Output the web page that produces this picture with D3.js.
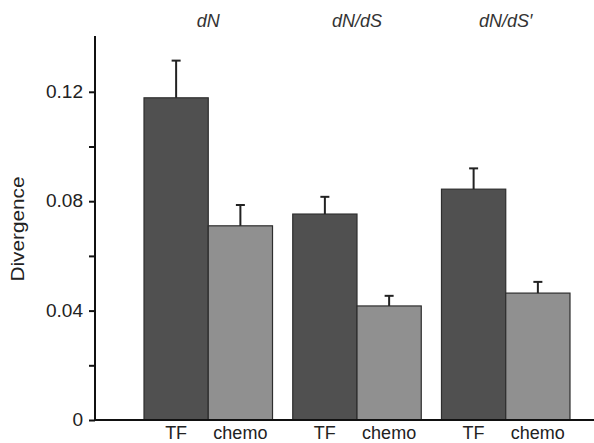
<!DOCTYPE html>
<html>
<head>
<meta charset="utf-8">
<script src="https://cdn.jsdelivr.net/npm/d3@7"></script>
<style>
  html, body { margin: 0; padding: 0; background: #fff; }
  svg { display: block; font-family: "Liberation Sans", Arial, sans-serif; }
</style>
</head>
<body>
<svg id="chart" width="594" height="443"></svg>
<script>
// ---- data ----
const groups = ["dN", "dN/dS", "dN/dS\u2032"];
const categories = ["TF", "chemo"];
const tfValues = [0.1178, 0.0753, 0.0844];
const tfErrors = [0.0136, 0.0063, 0.0076];
const chemoValues = [0.0710, 0.0417, 0.0464];
const chemoErrors = [0.0076, 0.0037, 0.0041];
const majorTicks = [0, 0.04, 0.08, 0.12];
const minorTicks = [0.02, 0.06, 0.10];
const tickLabels = ["0", "0.04", "0.08", "0.12"];
const yLabel = "Divergence";

const colors = { TF: "#505050", chemo: "#909090" };

const rows = [];
groups.forEach((g, i) => {
  rows.push({ group: g, cat: "TF", value: tfValues[i], err: tfErrors[i] });
  rows.push({ group: g, cat: "chemo", value: chemoValues[i], err: chemoErrors[i] });
});

const svg = d3.select("#chart");
const axisX = 95, baseY = 420, topY = 36;

const y = d3.scaleLinear().domain([0, 0.1404]).range([baseY, topY]);
const x0 = d3.scaleBand().domain(groups).range([144, 570]).paddingInner(0.136).paddingOuter(0);
const x1 = d3.scaleBand().domain(categories).range([0, x0.bandwidth()]).padding(0);

// bars
const g = svg.append("g");
g.selectAll("rect.bar").data(rows).join("rect")
  .attr("class", "bar")
  .attr("x", d => x0(d.group) + x1(d.cat))
  .attr("y", d => y(d.value))
  .attr("width", x1.bandwidth())
  .attr("height", d => y(0) - y(d.value))
  .attr("fill", d => colors[d.cat])
  .attr("stroke", "#2e2e2e")
  .attr("stroke-width", 1.2);

// error bars
const eb = g.selectAll("g.err").data(rows).join("g").attr("class", "err");
eb.append("line")
  .attr("x1", d => x0(d.group) + x1(d.cat) + x1.bandwidth() / 2)
  .attr("x2", d => x0(d.group) + x1(d.cat) + x1.bandwidth() / 2)
  .attr("y1", d => y(d.value))
  .attr("y2", d => y(d.value + d.err))
  .attr("stroke", "#222").attr("stroke-width", 2);
eb.append("line")
  .attr("x1", d => x0(d.group) + x1(d.cat) + x1.bandwidth() / 2 - 4.5)
  .attr("x2", d => x0(d.group) + x1(d.cat) + x1.bandwidth() / 2 + 4.5)
  .attr("y1", d => y(d.value + d.err))
  .attr("y2", d => y(d.value + d.err))
  .attr("stroke", "#222").attr("stroke-width", 2);

// y axis
const yAxis = d3.axisLeft(y).tickValues(majorTicks)
  .tickFormat((d, i) => tickLabels[i]).tickSizeOuter(0).tickSize(6).tickPadding(6);
const ya = svg.append("g").attr("transform", `translate(${axisX},0)`).call(yAxis);
ya.select(".domain").remove();
ya.selectAll(".tick line").attr("stroke", "#111").attr("stroke-width", 2);
ya.selectAll(".tick text").attr("font-size", 18).attr("fill", "#222")
  .attr("font-family", "Liberation Sans, Arial, sans-serif")
  .attr("transform", "scale(1.06,1)")
  .attr("x", function() { return -12 / 1.06; });
const yMinor = d3.axisLeft(y).tickValues(minorTicks).tickFormat("").tickSize(6).tickSizeOuter(0);
const ym = svg.append("g").attr("transform", `translate(${axisX},0)`).call(yMinor);
ym.select(".domain").remove();
ym.selectAll(".tick line").attr("stroke", "#111").attr("stroke-width", 2);
svg.append("line").attr("x1", axisX).attr("x2", axisX)
  .attr("y1", y.range()[1]).attr("y2", baseY + 1)
  .attr("stroke", "#111").attr("stroke-width", 2);

// x axis baseline
svg.append("line").attr("x1", axisX - 1).attr("x2", 594)
  .attr("y1", baseY).attr("y2", baseY)
  .attr("stroke", "#111").attr("stroke-width", 2);

// category labels
svg.selectAll("text.cat").data(rows).join("text")
  .attr("class", "cat")
  .attr("x", d => x0(d.group) + x1(d.cat) + x1.bandwidth() / 2)
  .attr("y", 439)
  .attr("text-anchor", "middle")
  .attr("font-size", 18)
  .attr("fill", "#222")
  .text(d => d.cat);

// group titles (italic)
svg.selectAll("text.grp").data(groups).join("text")
  .attr("class", "grp")
  .attr("x", d => x0(d) + x0.bandwidth() / 2)
  .attr("y", 27)
  .attr("text-anchor", "middle")
  .attr("font-size", 18)
  .attr("font-style", "italic")
  .attr("fill", "#333")
  .text(d => d);

// y label
svg.append("text")
  .attr("transform", "translate(24,229) rotate(-90)")
  .attr("text-anchor", "middle")
  .attr("font-size", 18)
  .attr("fill", "#222")
  .attr("textLength", 105)
  .attr("lengthAdjust", "spacingAndGlyphs")
  .text(yLabel);
</script>
</body>
</html>
